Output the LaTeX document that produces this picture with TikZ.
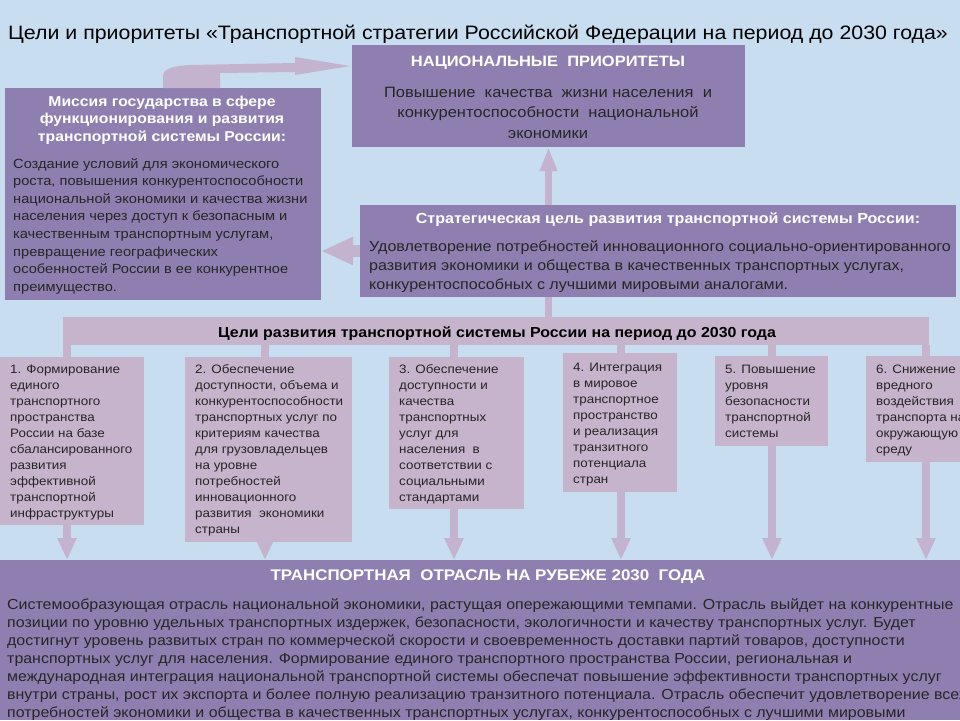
\documentclass[tikz,border=0pt]{standalone}
\usepackage{fontspec}
\setmainfont{Liberation Sans}[FakeStretch=1.10]
\usetikzlibrary{calc,arrows.meta}
\definecolor{bgblue}{HTML}{C8DDF0}
\definecolor{darkbox}{HTML}{8E7FB0}
\definecolor{lightbox}{HTML}{C6B4CC}
\definecolor{arrowc}{HTML}{C4B3CF}
\definecolor{bodytext}{HTML}{262626}
\tikzset{
  box/.style={draw=none, inner sep=0pt, outer sep=0pt, anchor=north west},
  dbox/.style={box, fill=darkbox},
  lbox/.style={box, fill=lightbox},
  wtitle/.style={text=white, inner sep=0pt, anchor=base, align=center, font=\bfseries\fontsize{14.3}{17.5}\selectfont},
  bodyl/.style={text=bodytext, inner sep=0pt, anchor=base west, align=left},
  goaltxt/.style={bodyl, font=\fontsize{12.2}{16}\selectfont},
  downarrow/.style={draw=arrowc, line width=8pt, -{Triangle[width=18pt,length=22pt]}},
  stem/.style={draw=lightbox, line width=8pt},
}
\begin{document}
\begin{tikzpicture}[x=1pt,y=-1pt]
\useasboundingbox (0,0) rectangle (960,720);
\clip (0,0) rectangle (960,720);
\fill[bgblue] (0,0) rectangle (960,720);

% title
\node[inner sep=0pt, anchor=base west, text=black, font=\fontsize{19.4}{22}\selectfont] (title) at (8,39)
  {Цели и приоритеты «Транспортной стратегии Российской Федерации на период до 2030 года»};

% main boxes
\node[dbox, minimum width=393pt, minimum height=102pt] (nat) at (352,45) {};
\node[dbox, minimum width=316pt, minimum height=212pt] (mission) at (5,88) {};
\node[lbox, minimum width=866pt, minimum height=28pt] (bar) at (63,317) {};

% up arrow (behind strategic box)
\draw[draw=arrowc, line width=7pt, -{Triangle[width=16pt,length=24pt]}] (bar.north -| nat.south) -- (nat.south);

\node[dbox, minimum width=596pt, minimum height=92pt] (strat) at (360,205) {};

% left arrow strategic -> mission
\draw[draw=arrowc, line width=12pt, -{Triangle[width=26pt,length=32pt]}] (strat.west) -- (strat.west -| mission.east);

% curved arrow mission -> national priorities
\coordinate (ca1) at ($(mission.north west)+(158,0)$);
\coordinate (ca2) at ($(mission.north west)+(215,0)$);
\coordinate (catip) at ($(nat.north west)+(-2,21)$);
\fill[arrowc] (ca1) -- ++(0,-12) .. controls ++(0,-8) and ++(-15,1) .. ++(27,-11)
   -- ($(catip)+(-55,-3)$) -- ($(catip)+(-55,-9)$) -- (catip) -- ($(catip)+(-55,9)$) -- ($(catip)+(-55,6)$)
   -- ($(ca2)+(0,-15)$) -- (ca2) -- cycle;

% texts of national priorities
\node[wtitle, font=\bfseries\fontsize{15}{17}\selectfont] (natt) at (548,66) {НАЦИОНАЛЬНЫЕ \ ПРИОРИТЕТЫ};
\node[text=bodytext, inner sep=0pt, anchor=base, align=center, font=\fontsize{15}{20.5}\selectfont] (natb) at (548,138)
  {Повышение \ качества \ жизни населения \ и\\конкурентоспособности \ национальной\\экономики};

% mission texts
\node[wtitle] (mist) at (162,141) {Миссия государства в сфере\\функционирования и развития\\транспортной системы России:};
\node[bodyl, font=\fontsize{13.3}{17.6}\selectfont] (misb) at (13,291.2)
  {Создание условий для экономического\\роста, повышения конкурентоспособности\\национальной экономики и качества жизни\\населения через доступ к безопасным и\\качественным транспортным услугам,\\превращение географических\\особенностей России в ее конкурентное\\преимущество.};

% strategic texts
\node[wtitle, font=\bfseries\fontsize{14.6}{17}\selectfont] (stratt) at (668,223) {Стратегическая цель развития транспортной системы России:};
\node[bodyl, font=\fontsize{14.6}{19}\selectfont] (stratb) at (369,289)
  {Удовлетворение потребностей инновационного социально-ориентированного\\развития экономики и общества в качественных транспортных услугах,\\конкурентоспособных с лучшими мировыми аналогами.};

% goals bar text
\node[inner sep=0pt, anchor=base, text=black, font=\bfseries\fontsize{14.5}{17}\selectfont] (bart) at (497,337)
  {Цели развития транспортной системы России на период до 2030 года};

% goal boxes
\node[lbox, minimum width=144pt, minimum height=168pt] (g1) at (0,357) {};
\node[lbox, minimum width=167pt, minimum height=185pt] (g2) at (185,357) {};
\node[lbox, minimum width=135pt, minimum height=152pt] (g3) at (389,357) {};
\node[lbox, minimum width=114pt, minimum height=139pt] (g4) at (563,353) {};
\node[lbox, minimum width=113pt, minimum height=90pt] (g5) at (715,356) {};
\node[lbox, minimum width=114pt, minimum height=106pt] (g6) at (866,356) {};

\node[dbox, minimum width=960pt, minimum height=160pt] (bottom) at (0,560) {};

% column coordinates
\coordinate (c1) at (67,0);
\coordinate (c2) at (265,0);
\coordinate (c3) at (454,0);
\coordinate (c4) at (621,0);
\coordinate (c5) at (772,0);
\coordinate (c6) at (926,0);

% stems and arrows
\foreach \i in {1,...,6}{
  \draw[stem] (bar.south -| c\i) -- (g\i.north -| c\i);
  \draw[downarrow] (g\i.south -| c\i) -- (bottom.north -| c\i);
}

\node[goaltxt] (g1t) at (10,517) {1. Формирование\\единого\\транспортного\\пространства\\России на базе\\сбалансированного\\развития\\эффективной\\транспортной\\инфраструктуры};
\node[goaltxt] (g2t) at (195,533) {2. Обеспечение\\доступности, объема и\\конкурентоспособности\\транспортных услуг по\\критериям качества\\для грузовладельцев\\на уровне\\потребностей\\инновационного\\развития \ экономики\\страны};
\node[goaltxt] (g3t) at (399,501) {3. Обеспечение\\доступности и\\качества\\транспортных\\услуг для\\населения \ в\\соответствии с\\социальными\\стандартами};
\node[goaltxt] (g4t) at (573,483) {4. Интеграция\\в мировое\\транспортное\\пространство\\и реализация\\транзитного\\потенциала\\стран};
\node[goaltxt] (g5t) at (725,437) {5. Повышение\\уровня\\безопасности\\транспортной\\системы};
\node[goaltxt] (g6t) at (876,453) {6. Снижение\\вредного\\воздействия\\транспорта на\\окружающую\\среду};

% bottom texts
\node[wtitle, font=\bfseries\fontsize{15.4}{17}\selectfont] (bott) at (488,580) {ТРАНСПОРТНАЯ \ ОТРАСЛЬ НА РУБЕЖЕ 2030 \ ГОДА};
\node[bodyl, font=\fontsize{14.5}{18}\selectfont] (botb) at (7,717)
  {Системообразующая отрасль национальной экономики, растущая опережающими темпами. Отрасль выйдет на конкурентные\\позиции по уровню удельных транспортных издержек, безопасности, экологичности и качеству транспортных услуг. Будет\\достигнут уровень развитых стран по коммерческой скорости и своевременность доставки партий товаров, доступности\\транспортных услуг для населения. Формирование единого транспортного пространства России, региональная и\\международная интеграция национальной транспортной системы обеспечат повышение эффективности транспортных услуг\\внутри страны, рост их экспорта и более полную реализацию транзитного потенциала. Отрасль обеспечит удовлетворение всех\\потребностей экономики и общества в качественных транспортных услугах, конкурентоспособных с лучшими мировыми};
\end{tikzpicture}
\end{document}
